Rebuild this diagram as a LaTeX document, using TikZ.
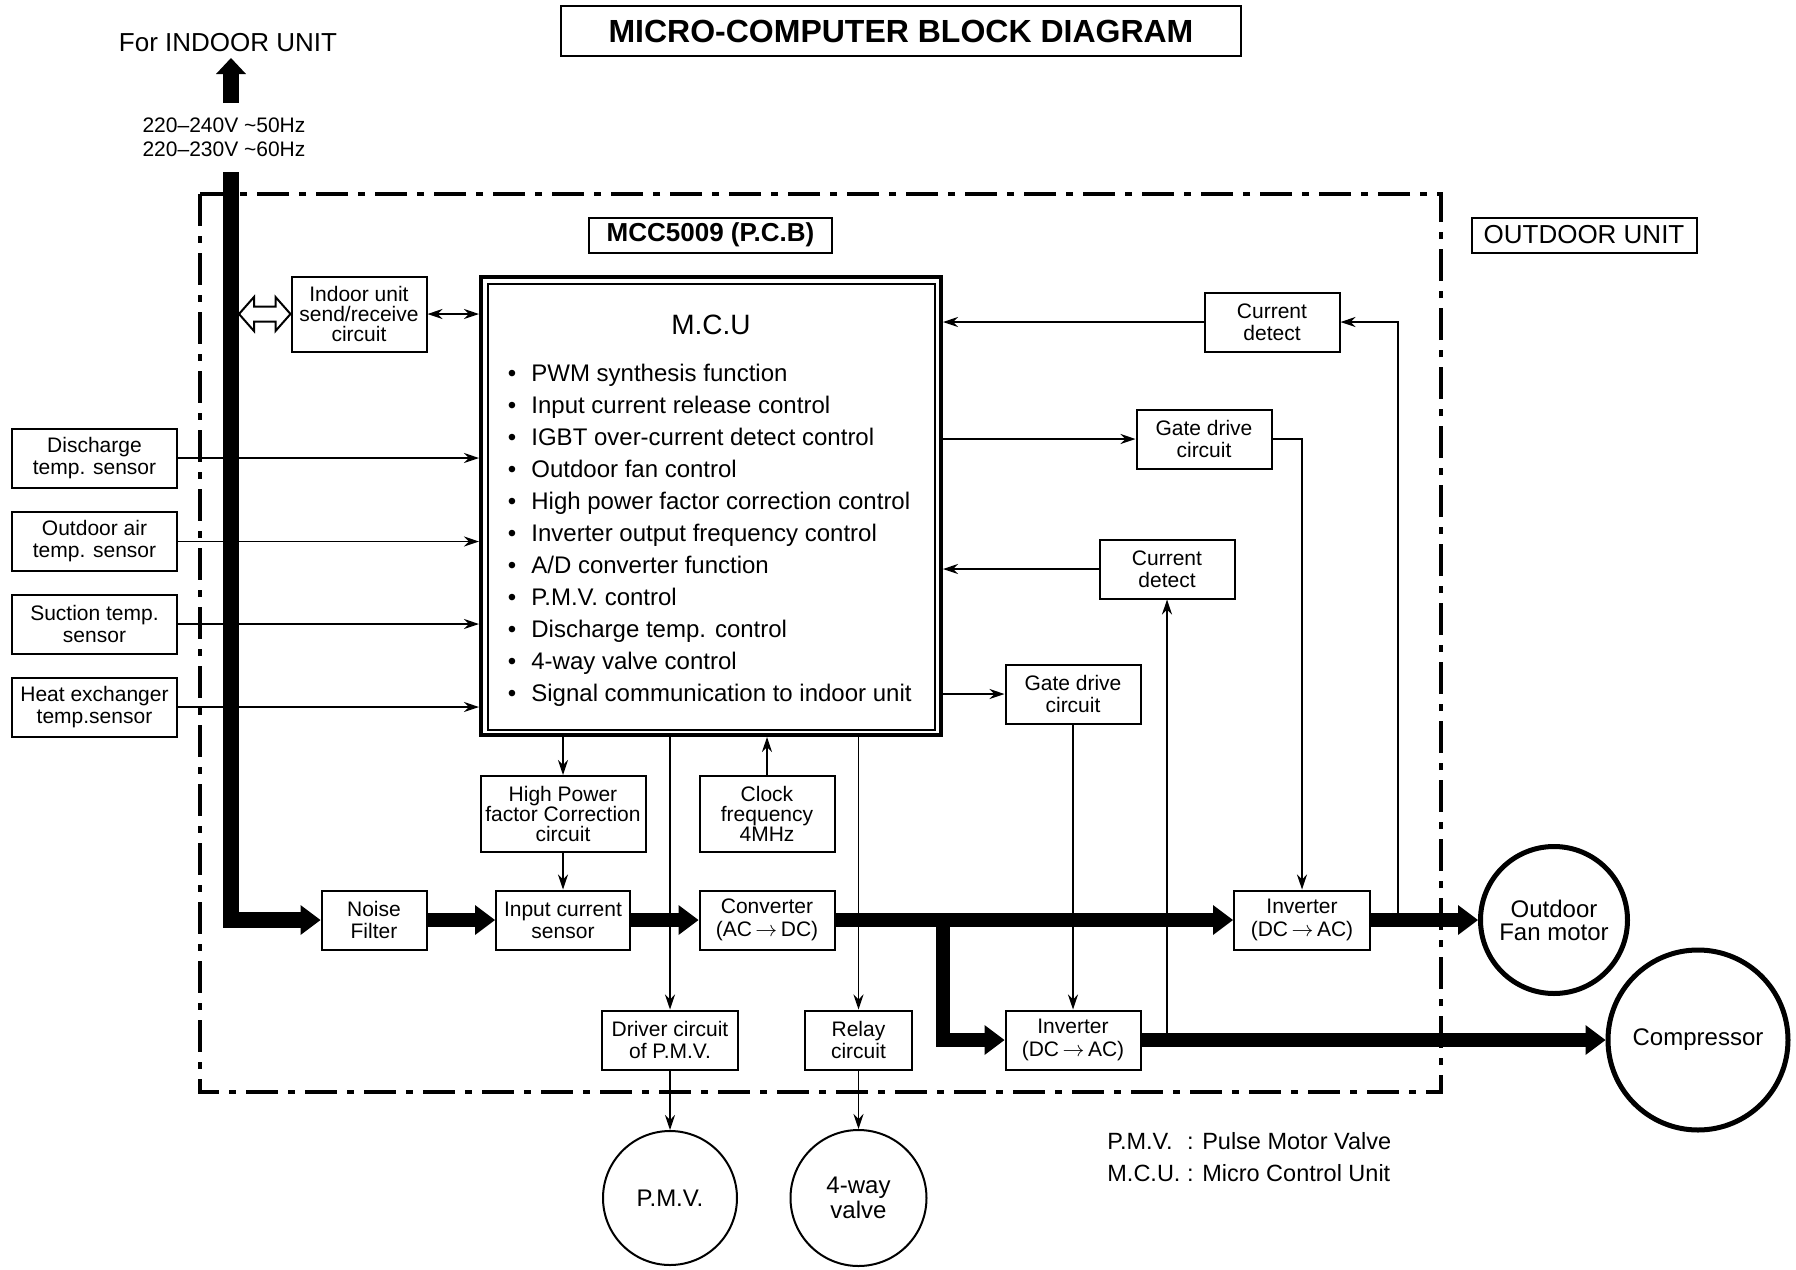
\documentclass[tikz,border=0pt]{standalone}
\usepackage{fontspec}
\setmainfont{Liberation Sans}
\usetikzlibrary{arrows.meta, calc, positioning}

\newcommand{\conva}{\,$\rightarrow$\,}

\tikzset{
  blk/.style={draw, line width=1pt, minimum width=67.5pt, minimum height=29.5pt, inner sep=1pt, align=center, font=\fontsize{10.5}{11}\selectfont},
  sensor/.style={blk, minimum width=82.5pt},
  convbox/.style={blk, font=\fontsize{10.5}{11.75}\selectfont},
  sig/.style={line width=0.65pt, -{Stealth[length=7.5pt, width=5pt, inset=2.5pt]}},
  sigboth/.style={line width=0.65pt, {Stealth[length=7.5pt, width=5pt, inset=2.5pt]}-{Stealth[length=7.5pt, width=5pt, inset=2.5pt]}},
  pwr/.style={line width=7pt, -{Triangle[length=10pt, width=15pt, line width=0pt]}},
  labelbox/.style={draw, line width=1pt, inner sep=0pt, minimum height=17.5pt, font=\fontsize{13}{13}\selectfont},
  load/.style={circle, draw, align=center, inner sep=0pt, font=\fontsize{12}{11.5}\selectfont},
}

\begin{document}
\begin{tikzpicture}[x=0.5pt, y=-0.5pt]
  \useasboundingbox (0,0) rectangle (1796,1270);

  % headings
  \node[draw, line width=1pt, minimum width=340pt, minimum height=25pt, font=\bfseries\fontsize{16}{16}\selectfont] (title) at (901,31) {MICRO-COMPUTER BLOCK DIAGRAM};
  \node[labelbox, minimum width=121.5pt, font=\bfseries\fontsize{13}{13}\selectfont] (pcb) at (710.5,235) {MCC5009 (P.C.B)};
  \node[labelbox, minimum width=112.5pt] (outunit) at (1584,235) {OUTDOOR UNIT};
  \node[font=\fontsize{13}{13}\selectfont, inner sep=0pt] (forin) at (228,43) {For INDOOR UNIT};
  \node[align=center, inner sep=0pt, font=\fontsize{10.5}{12}\selectfont] (volt) at (224,137) {220--240V \textasciitilde50Hz\\220--230V \textasciitilde60Hz};

  % sensors
  \node[sensor] (dis) at (94.5,458) {Discharge\\temp. sensor};
  \node[sensor] (oat) at (94.5,541.5) {Outdoor air\\temp. sensor};
  \node[sensor] (suc) at (94.5,624) {Suction temp.\\sensor};
  \node[sensor] (hex) at (94.5,707) {Heat exchanger\\temp.sensor};

  % micro control unit
  \node[draw, line width=2pt, minimum width=230pt, minimum height=229pt, inner sep=0pt] (mcu) at (711,506) {};
  \draw[line width=0.65pt] ([shift={(9,9)}]mcu.north west) rectangle ([shift={(-8,-7)}]mcu.south east);
  \node[font=\fontsize{14}{14}\selectfont] (mcutitle) at (711,325) {M.C.U};
  \begin{scope}[font=\fontsize{12}{12}\selectfont]
    \foreach \txt [count=\i from 0] in {PWM synthesis function, Input current release control,
        IGBT over-current detect control, Outdoor fan control, High power factor correction control,
        Inverter output frequency control, A/D converter function, P.M.V. control,
        Discharge temp. control, 4-way valve control, Signal communication to indoor unit}
    {
      \node[anchor=base, inner sep=0pt] (dot\i) at (512,{381+32*\i}) {\textbullet};
      \node[anchor=base west, inner sep=0pt] (item\i) at (531,{381+32*\i}) {\txt};
    }
  \end{scope}

  % blocks
  \node[blk, minimum height=37.5pt, font=\fontsize{10.5}{10}\selectfont] (iu) at (359,314) {Indoor unit\\send/receive\\circuit};
  \node[blk] (cd1) at (1272,322) {Current\\detect};
  \node[blk] (gd1) at (1204,439) {Gate drive\\circuit};
  \node[blk] (cd2) at (1167,569) {Current\\detect};
  \node[blk] (gd2) at (1073,694) {Gate drive\\circuit};
  \node[blk, minimum width=82.5pt, minimum height=38pt, font=\fontsize{10.5}{10}\selectfont] (hpfc) at (563,814) {High Power\\factor Correction\\circuit};
  \node[blk, minimum height=38pt, font=\fontsize{10.5}{10}\selectfont] (clk) at (767,814) {Clock\\frequency\\4MHz};
  \node[blk, minimum width=52.5pt] (nf) at (374,920) {Noise\\Filter};
  \node[blk, minimum width=67pt] (ics) at (563,920) {Input current\\sensor};
  \node[convbox] (conv) at (767,920) {Converter\\(AC\conva DC)};
  \node[convbox, minimum width=68pt] (inv1) at (1302,920) {Inverter\\(DC\conva AC)};
  \node[blk, minimum width=68pt] (drv) at (670,1040) {Driver circuit\\of P.M.V.};
  \node[blk, minimum width=53.5pt] (relay) at (858.5,1040) {Relay\\circuit};
  \node[convbox] (inv2) at (1073,1040) {Inverter\\(DC\conva AC)};

  % loads
  \node[load, line width=2.5pt, minimum size=73.5pt] (fan) at (1554,920) {Outdoor\\Fan motor};
  \node[load, line width=2.5pt, minimum size=90pt] (comp) at (1698,1040) {Compressor};
  \node[load, line width=1pt, minimum size=67pt] (pmv) at (670,1198) {P.M.V.};
  \node[load, line width=1pt, minimum size=68pt, font=\fontsize{12}{10.5}\selectfont] (valve) at (858.5,1198) {4-way\\valve};

  % legend
  \node[anchor=west, inner sep=0pt, font=\fontsize{11.75}{16}\selectfont] (legend) at (1107,1159)
    {\begin{tabular}{@{}l@{ : }l@{}}P.M.V. & Pulse Motor Valve\\M.C.U. & Micro Control Unit\end{tabular}};

  % sensor inputs
  \foreach \s in {dis,oat,suc,hex}
    \draw[sig] (\s.east) -- (\s.east -| mcu.west);

  % outdoor unit border
  \draw[line width=1.75pt, dash pattern=on 16pt off 5pt on 3.5pt off 5pt] (200,194) rectangle (1441,1092);

  % supply from indoor unit
  \coordinate (upBase) at (231,103);
  \coordinate (upTip) at (231,58);
  \draw[line width=8pt, -{Triangle[length=8pt, width=15pt, line width=0pt]}] (upBase) -- (upTip);
  \coordinate (busTop) at (231,172);
  \draw[pwr, line width=8pt] (busTop) -- (busTop |- nf.west) -- (nf.west);

  % send/receive
  \coordinate (busR) at (239,314);
  \draw[line width=1pt, fill=white] (busR) -- ++(15,-17) -- ++(0,9.5) -- ($(iu.west)+(-15,-7.5)$) -- ++(0,-9.5)
    -- (iu.west) -- ++(-15,17) -- ++(0,-9.5) -- ($(busR)+(15,7.5)$) -- ++(0,9.5) -- cycle;
  \draw[sigboth] (iu.east) -- (iu.east -| mcu.west);

  % right side control
  \draw[sig] (cd1.west) -- (cd1.west -| mcu.east);
  \draw[sig] (mcu.east |- gd1.west) -- (gd1.west);
  \draw[sig] (gd1.east) -| (inv1.north);
  \coordinate (fanTap) at (1398,920);
  \draw[sig] (fanTap) |- (cd1.east);
  \draw[sig] (cd2.west) -- (cd2.west -| mcu.east);
  \coordinate (compTap) at (1167,1040);
  \draw[sig] (compTap) -- (cd2.south);
  \draw[sig] (mcu.east |- gd2.west) -- (gd2.west);
  \draw[sig] (gd2.south) -- (inv2.north);

  % bottom control
  \draw[sig] (hpfc.north |- mcu.south) -- (hpfc.north);
  \draw[sig] (hpfc.south) -- (ics.north);
  \draw[sig] (clk.north) -- (clk.north |- mcu.south);
  \draw[sig] (drv.north |- mcu.south) -- (drv.north);
  \draw[sig] (drv.south) -- (pmv.north);
  \draw[sig] (relay.north |- mcu.south) -- (relay.north);
  \draw[sig] (relay.south) -- (valve.north);

  % power path
  \draw[pwr] (nf.east) -- (ics.west);
  \draw[pwr] (ics.east) -- (conv.west);
  \draw[pwr] (conv.east) -- (inv1.west);
  \coordinate (split) at (943,920);
  \draw[pwr] (split) |- (inv2.west);
  \draw[pwr] (inv1.east) -- (fan.west);
  \draw[pwr] (inv2.east) -- (comp.west);
\end{tikzpicture}
\end{document}
